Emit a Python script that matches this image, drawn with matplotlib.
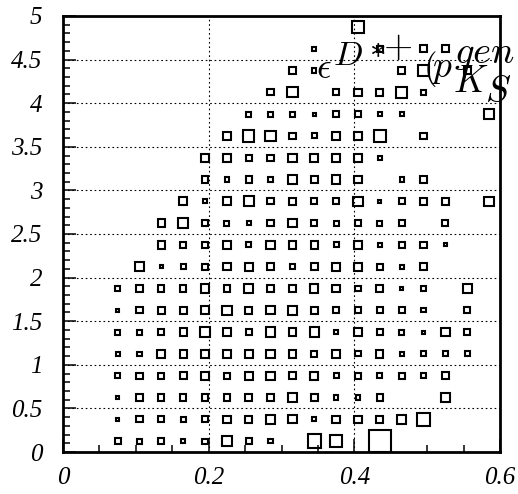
import numpy as np
import matplotlib.pyplot as plt
from matplotlib.patches import Rectangle
from matplotlib.ticker import MultipleLocator

plt.rcParams['mathtext.fontset'] = 'cm'

# 20 x 20 binning of the efficiency map
x_edges = np.linspace(0.0, 0.6, 21)
y_edges = np.linspace(0.0, 5.0, 21)

# bin contents, one list per y bin (lowest first), 20 x bins each
eff = [
    [0, 0, 6, 5, 6, 4, 5, 9, 6, 4, 0, 13, 11, 0, 21, 0, 0, 0, 0, 0],
    [0, 0, 3, 6, 6, 5, 6, 7, 7, 9, 8, 4, 7, 7, 7, 9, 12, 0, 0, 0],
    [0, 0, 3, 6, 6, 6, 6, 6, 7, 6, 8, 7, 4, 4, 6, 0, 0, 9, 0, 0],
    [0, 0, 5, 6, 6, 7, 8, 6, 8, 8, 7, 8, 5, 6, 5, 6, 5, 7, 0, 0],
    [0, 0, 4, 4, 8, 7, 8, 7, 8, 8, 7, 6, 8, 5, 7, 4, 5, 5, 5, 0],
    [0, 0, 5, 5, 6, 7, 9, 8, 6, 9, 7, 9, 4, 8, 6, 5, 3, 8, 6, 0],
    [0, 0, 3, 6, 7, 7, 8, 9, 7, 8, 9, 7, 6, 6, 6, 6, 4, 0, 6, 0],
    [0, 0, 5, 6, 6, 6, 8, 6, 9, 6, 7, 8, 7, 5, 7, 3, 4, 0, 9, 0],
    [0, 0, 0, 9, 3, 5, 6, 7, 8, 7, 5, 7, 8, 8, 6, 4, 7, 0, 0, 0],
    [0, 0, 0, 0, 7, 6, 6, 7, 5, 8, 7, 7, 5, 8, 4, 6, 6, 3, 0, 0],
    [0, 0, 0, 0, 7, 9, 6, 5, 4, 6, 8, 6, 5, 6, 5, 6, 0, 6, 0, 0],
    [0, 0, 0, 0, 0, 8, 4, 8, 10, 6, 7, 6, 6, 9, 3, 6, 7, 7, 0, 9],
    [0, 0, 0, 0, 0, 0, 6, 4, 6, 4, 8, 7, 8, 7, 0, 4, 6, 0, 0, 0],
    [0, 0, 0, 0, 0, 0, 8, 8, 6, 6, 8, 8, 8, 8, 4, 0, 0, 0, 0, 0],
    [0, 0, 0, 0, 0, 0, 0, 8, 11, 10, 6, 5, 7, 7, 12, 0, 6, 0, 0, 0],
    [0, 0, 0, 0, 0, 0, 0, 0, 5, 5, 5, 3, 6, 6, 4, 4, 0, 0, 0, 10],
    [0, 0, 0, 0, 0, 0, 0, 0, 0, 6, 10, 0, 6, 7, 7, 11, 5, 0, 0, 0],
    [0, 0, 0, 0, 0, 0, 0, 0, 0, 0, 7, 4, 0, 0, 0, 7, 11, 0, 7, 0],
    [0, 0, 0, 0, 0, 0, 0, 0, 0, 0, 0, 4, 0, 0, 6, 0, 7, 7, 0, 0],
    [0, 0, 0, 0, 0, 0, 0, 0, 0, 0, 0, 0, 0, 11, 0, 0, 0, 0, 0, 0],
]

x_ticks = [0, 0.2, 0.4, 0.6]
x_labels = ['0', '0.2', '0.4', '0.6']
y_ticks = [0, 0.5, 1, 1.5, 2, 2.5, 3, 3.5, 4, 4.5, 5]
y_labels = ['0', '0.5', '1', '1.5', '2', '2.5', '3', '3.5', '4', '4.5', '5']

W, H = 518, 494
fig = plt.figure(figsize=(W / 100, H / 100), dpi=100)
ax = fig.add_axes([63 / W, 42 / H, 437 / W, 436 / H])

z = np.array(eff, dtype=float)
zmax = z.max()
dx = np.diff(x_edges)
dy = np.diff(y_edges)
xc = 0.5 * (x_edges[:-1] + x_edges[1:])
yc = 0.5 * (y_edges[:-1] + y_edges[1:])

# "box" drawing: side proportional to the bin content
for j in range(len(yc)):
    for i in range(len(xc)):
        v = z[j, i]
        if v <= 0:
            continue
        sx = dx[i] * v / zmax
        sy = dy[j] * v / zmax
        ax.add_patch(Rectangle((xc[i] - sx / 2, yc[j] - sy / 2), sx, sy,
                               fill=False, edgecolor='black', linewidth=1.5,
                               zorder=3))

ax.set_xlim(0, 0.6)
ax.set_ylim(0, 5)

ax.set_xticks(x_ticks)
ax.set_xticklabels(x_labels)
ax.set_yticks(y_ticks)
ax.set_yticklabels(y_labels)
ax.xaxis.set_minor_locator(MultipleLocator(0.05))
ax.yaxis.set_minor_locator(MultipleLocator(0.1))

ax.tick_params(which='both', direction='in', top=False, right=False,
               width=1.1, color='black')
ax.tick_params(which='major', length=9.5)
ax.tick_params(which='minor', length=4.7)
ax.tick_params(axis='x', pad=11)
ax.tick_params(axis='y', pad=15)
for lab in ax.get_xticklabels() + ax.get_yticklabels():
    lab.set_family('Liberation Serif')
    lab.set_style('italic')
    lab.set_fontsize(18)

for s in ax.spines.values():
    s.set_linewidth(2.0)

ax.grid(True, which='major', color='black', linestyle=(0, (1.5, 2.5)),
        linewidth=0.8, zorder=1)
ax.set_axisbelow(True)


def fpos(px, py):
    return px / W, 1 - py / H


# title pieces, laid out the way the original label came out
pieces = [
    (r'$\epsilon$', 316, 78, 26, 'left', 'baseline'),
    (r'$D$', 333, 65, 25, 'left', 'baseline'),
    (r'$*$', 377, 47, 24, 'center', 'center'),
    (r'$+$', 398, 47, 27, 'center', 'center'),
    (r'$($', 430, 69, 25, 'center', 'center'),
    (r'$p$', 431, 77, 27, 'left', 'baseline'),
    (r'$gen$', 454, 63, 28, 'left', 'baseline'),
    (r'$K$', 453, 92, 27, 'left', 'baseline'),
    (r'$S$', 485, 102, 27, 'left', 'baseline'),
]
for txt, px, py, size, ha, va in pieces:
    fx, fy = fpos(px, py)
    fig.text(fx, fy, txt, fontsize=size, ha=ha, va=va)

fig.savefig('out.png', dpi=100)
